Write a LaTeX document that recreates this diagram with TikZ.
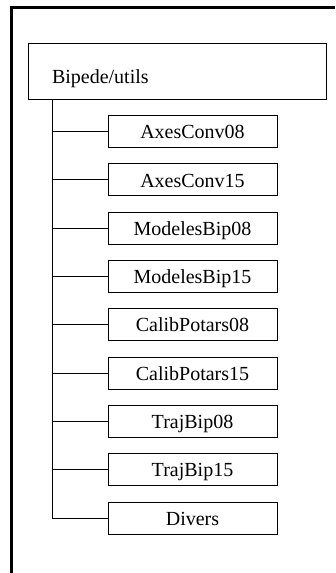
\documentclass[tikz,border=0pt]{standalone}
\usepackage{fontspec}
\setmainfont{Liberation Serif}
\begin{document}
\begin{tikzpicture}[x=1pt,y=-1pt,
  every node/.style={font=\fontsize{20}{24}\selectfont},
  rootbox/.style={draw, line width=0.8pt, minimum width=298pt, minimum height=56pt, inner xsep=24pt, text width=250pt, align=left, text height=28pt, text depth=4pt, inner ysep=0pt},
  childbox/.style={draw, line width=0.8pt, minimum width=169pt, minimum height=32pt, inner sep=0pt, text height=15pt, text depth=0pt},
  link/.style={line width=0.8pt}]
\useasboundingbox (0,0) rectangle (335,573);
\draw[line width=3pt] (11,573) -- (11,7) -- (335,7);
\node[rootbox] (root) at (177,71) {Bipede/utils};
\node[childbox] (c1) at (192.5,131) {AxesConv08};
\node[childbox] (c2) at (192.5,179.5) {AxesConv15};
\node[childbox] (c3) at (192.5,228) {ModelesBip08};
\node[childbox] (c4) at (192.5,276) {ModelesBip15};
\node[childbox] (c5) at (192.5,324) {CalibPotars08};
\node[childbox] (c6) at (192.5,373) {CalibPotars15};
\node[childbox] (c7) at (192.5,421) {TrajBip08};
\node[childbox] (c8) at (192.5,469) {TrajBip15};
\node[childbox] (c9) at (192.5,518) {Divers};
\coordinate (t0) at ([xshift=25pt]root.south west);
\draw[link] (t0) |- (c9.west);
\foreach \i in {1,...,8} {
  \draw[link] (t0 |- c\i.west) -- (c\i.west);
}
\end{tikzpicture}
\end{document}
